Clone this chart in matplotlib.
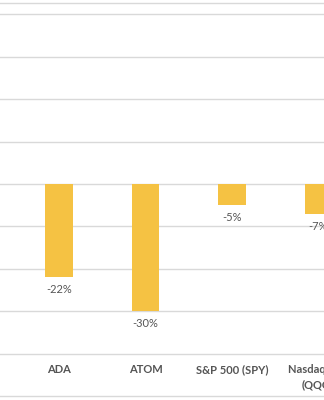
import matplotlib.pyplot as plt

categories = ["ADA", "ATOM", "S&P 500 (SPY)", "Nasdaq 100\n(QQQ)"]
returns = [-22, -30, -5, -7]
value_labels = ["-22%", "-30%", "-5%", "-7%"]

bar_color = "#F5C243"
grid_color = "#D9D9D9"
text_color = "#555555"

fig = plt.figure(figsize=(3.24, 4.0), dpi=100)
ax = fig.add_axes([0, 0.01, 1, 0.9825])

x = range(len(categories))
bars = ax.bar(x, returns, width=0.32, color=bar_color, zorder=3)

ax.set_xlim(-0.682, 3.064)
ax.set_ylim(-50, 42.7)
ax.set_yticks(range(-40, 50, 10))
ax.yaxis.grid(True, color=grid_color, linewidth=1.0)
ax.set_axisbelow(True)
ax.tick_params(left=False, bottom=False, labelleft=False, labelbottom=False)

for side in ["left", "right"]:
    ax.spines[side].set_visible(False)
for side in ["top", "bottom"]:
    ax.spines[side].set_color(grid_color)
    ax.spines[side].set_linewidth(1.0)

# value labels under the bar ends
for rect, lab in zip(bars, value_labels):
    ax.annotate(lab, (rect.get_x() + rect.get_width() / 2, rect.get_height()),
                xytext=(0, -7), textcoords="offset pixels",
                ha="center", va="top", fontsize=8, color=text_color,
                family="Lato")

# category labels at the low position
for i, cat in enumerate(categories):
    ax.text(i, -42.5, cat, ha="center", va="top", fontsize=8,
            fontweight="bold", color=text_color, family="Lato",
            linespacing=1.45)

plt.savefig("out.png", dpi=100)
